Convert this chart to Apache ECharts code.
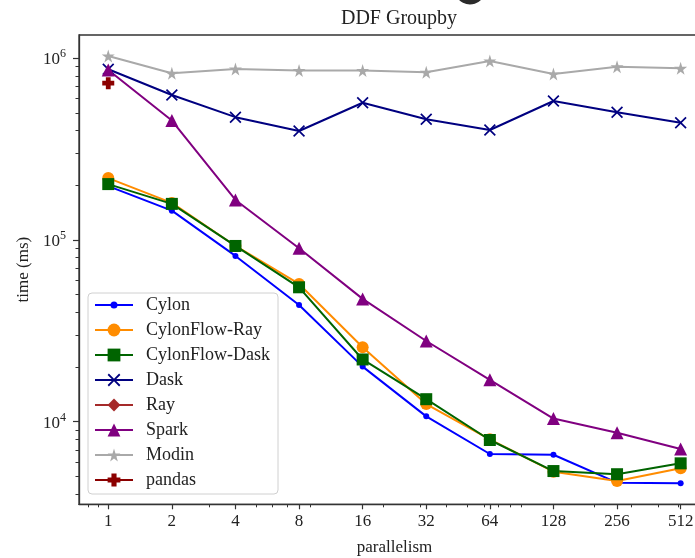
<!DOCTYPE html>
<html>
<head>
<meta charset="utf-8">
<script src="https://cdn.jsdelivr.net/npm/echarts@6/dist/echarts.min.js"></script>
<style>
html,body{margin:0;padding:0;background:#fff;}
#chart{width:695px;height:558px;}
</style>
</head>
<body>
<div id="chart"></div>
<script>
// ---- data ----
const parallelism = [1, 2, 4, 8, 16, 32, 64, 128, 256, 512];
const cylon        = [198000, 145000, 81700, 43900, 20100, 10700, 6640, 6580, 4620, 4580];
const cylonflowRay = [219000, 160000, 92700, 57300, 25700, 12500, 8000, 5310, 4720, 5540];
const cylonflowDask= [203000, 158000, 92700, 54900, 22000, 13300, 7930, 5350, 5140, 5900];
const dask         = [870000, 628000, 474000, 398000, 569000, 462000, 403000, 582000, 505000, 442000];
const ray          = [];
const spark        = [862000, 454000, 166000, 90000, 47400, 27800, 17000, 10400, 8700, 7070];
const modin        = [1030000, 827000, 873000, 855000, 855000, 838000, 966000, 820000, 899000, 881000];
const pandasX      = [1];
const pandas       = [729000];

const seriesNames = ['Cylon', 'CylonFlow-Ray', 'CylonFlow-Dask', 'Dask', 'Ray', 'Spark', 'Modin', 'pandas'];
const xTickValues = [1, 2, 4, 8, 16, 32, 64, 128, 256, 512];
const xMinorTicks = [0.8, 0.9, 3, 5, 6, 7, 9, 20, 30, 40, 50, 60, 70, 80, 90, 200, 300, 400, 500, 600];
const yTickValues = [1e4, 1e5, 1e6];
const yMinorTicks = [4e3,5e3,6e3,7e3,8e3,9e3, 2e4,3e4,4e4,5e4,6e4,7e4,8e4,9e4, 2e5,3e5,4e5,5e5,6e5,7e5,8e5,9e5];

const X_MIN = Math.pow(2, -0.46), X_MAX = Math.pow(2, 9.46);
const Y_MIN = Math.pow(10, 3.5454), Y_MAX = Math.pow(10, 6.128);

const FONT = '"Liberation Serif", "DejaVu Serif", serif';
const AX = '#333';

const pairs = (xs, ys) => ys.map((v, i) => [xs[i], v]);

const SYM_X = 'path://M1,0 L5,4 L9,0 L10,1 L6,5 L10,9 L9,10 L5,6 L1,10 L0,9 L4,5 L0,1 Z';
const SYM_STAR = 'path://M50,0 L61,35 L98,35 L68,57 L79,91 L50,70 L21,91 L32,57 L2,35 L39,35 Z';
const SYM_PLUS = 'path://M3,0 L7,0 L7,3 L10,3 L10,7 L7,7 L7,10 L3,10 L3,7 L0,7 L0,3 L3,3 Z';
// legend icon for the small-dot series: a line with a small dot in the middle
const LEG_SMALLDOT = 'path://M0,7 L38,7 L38,9 L0,9 Z M22.5,8 A3.5,3.5 0 1,1 15.5,8 A3.5,3.5 0 1,1 22.5,8 Z';

function mkSeries(name, data, color, symbol, size) {
  return {
    name: name, type: 'line', data: data,
    xAxisIndex: 0, yAxisIndex: 0,
    symbol: symbol, symbolSize: size, showAllSymbol: true,
    lineStyle: { color: color, width: 2 },
    itemStyle: { color: color, borderWidth: 0 },
    emphasis: { disabled: true },
    animation: false
  };
}

const chart = echarts.init(document.getElementById('chart'), null, { renderer: 'canvas' });

const GRID = { left: 79, top: 35, right: -14.9, bottom: 53.7, containLabel: false, outerBoundsMode: 'none' };

const baseY = {
  type: 'log', logBase: 10, min: Y_MIN, max: Y_MAX, position: 'left',
  splitLine: { show: false }, minorSplitLine: { show: false }
};
const baseX = {
  type: 'log', logBase: 2, min: X_MIN, max: X_MAX, position: 'bottom',
  splitLine: { show: false }, minorSplitLine: { show: false }
};

const legendData = seriesNames.map(n => n === 'Cylon' ? { name: n, icon: LEG_SMALLDOT } : { name: n });

const option = {
  backgroundColor: '#fff',
  animation: false,
  title: {
    text: 'DDF Groupby', left: 394, top: 4, textAlign: 'center',
    textStyle: { fontFamily: FONT, fontSize: 20, fontWeight: 'normal', color: '#222' }
  },
  // fragment of a cropped glyph from content above the chart (visible at the very top edge)
  graphic: [{
    type: 'arc', silent: true,
    shape: { cx: 470, cy: -11, r: 13, startAngle: Math.PI * 0.15, endAngle: Math.PI * 0.85, clockwise: true },
    style: { stroke: '#2b2b2b', lineWidth: 5, fill: null }
  }],
  grid: [
    Object.assign({ show: true, borderColor: AX, borderWidth: 1.3, backgroundColor: 'transparent' }, GRID),
    Object.assign({ show: false }, GRID)
  ],
  legend: {
    orient: 'vertical', left: 88, top: 293,
    data: legendData,
    itemWidth: 38, itemHeight: 16, itemGap: 7,
    padding: [3, 8, 5, 6],
    backgroundColor: '#fff', borderColor: '#d0d0d0', borderWidth: 1, borderRadius: 4,
    textStyle: { fontFamily: FONT, fontSize: 18, color: '#222', lineHeight: 18, padding: [0, 0, 0, 8] },
    selectedMode: false
  },
  xAxis: [
    Object.assign({}, baseX, {
      gridIndex: 0,
      name: 'parallelism', nameLocation: 'middle', nameGap: 35,
      nameTextStyle: { fontFamily: FONT, fontSize: 17, color: '#222' },
      axisLine: { show: true, lineStyle: { color: AX, width: 1.3 } },
      axisTick: { show: true, length: 5, inside: false, lineStyle: { color: AX, width: 1.2 }, customValues: xTickValues },
      axisLabel: { show: true, margin: 9, fontFamily: FONT, fontSize: 17, color: '#222', customValues: xTickValues,
                   formatter: v => String(Math.round(v)) }
    }),
    Object.assign({}, baseX, {
      gridIndex: 1,
      axisLine: { show: false },
      axisTick: { show: true, length: 3, lineStyle: { color: AX, width: 1 }, customValues: xMinorTicks },
      axisLabel: { show: false }
    })
  ],
  yAxis: [
    Object.assign({}, baseY, {
      gridIndex: 0,
      name: 'time (ms)', nameLocation: 'middle', nameGap: 42,
      nameTextStyle: { fontFamily: FONT, fontSize: 17, color: '#222' },
      axisLine: { show: true, lineStyle: { color: AX, width: 1.3 } },
      axisTick: { show: true, length: 6, lineStyle: { color: AX, width: 1.2 }, customValues: yTickValues },
      axisLabel: {
        show: true, margin: 13, customValues: yTickValues,
        formatter: v => '{b|10}{s|' + Math.round(Math.log10(v)) + '}',
        rich: {
          b: { fontFamily: FONT, fontSize: 17, color: '#222', lineHeight: 20, verticalAlign: 'bottom' },
          s: { fontFamily: FONT, fontSize: 12, color: '#222', lineHeight: 12, verticalAlign: 'top' }
        }
      }
    }),
    Object.assign({}, baseY, {
      gridIndex: 1,
      axisLine: { show: false },
      axisTick: { show: true, length: 3.5, lineStyle: { color: AX, width: 1 }, customValues: yMinorTicks },
      axisLabel: { show: false }
    })
  ],
  series: [
    mkSeries('Cylon', pairs(parallelism, cylon), '#0000ff', 'circle', 6),
    mkSeries('CylonFlow-Ray', pairs(parallelism, cylonflowRay), '#ff8c00', 'circle', 12),
    mkSeries('CylonFlow-Dask', pairs(parallelism, cylonflowDask), '#006400', 'rect', 12),
    mkSeries('Dask', pairs(parallelism, dask), '#000080', SYM_X, 12),
    mkSeries('Ray', pairs(parallelism, ray), '#a52a2a', 'diamond', 14),
    mkSeries('Spark', pairs(parallelism, spark), '#800080', 'triangle', 13),
    mkSeries('Modin', pairs(parallelism, modin), '#a9a9a9', SYM_STAR, 13),
    mkSeries('pandas', pairs(pandasX, pandas), '#8b0000', SYM_PLUS, 12)
  ]
};

chart.setOption(option);
</script>
</body>
</html>
